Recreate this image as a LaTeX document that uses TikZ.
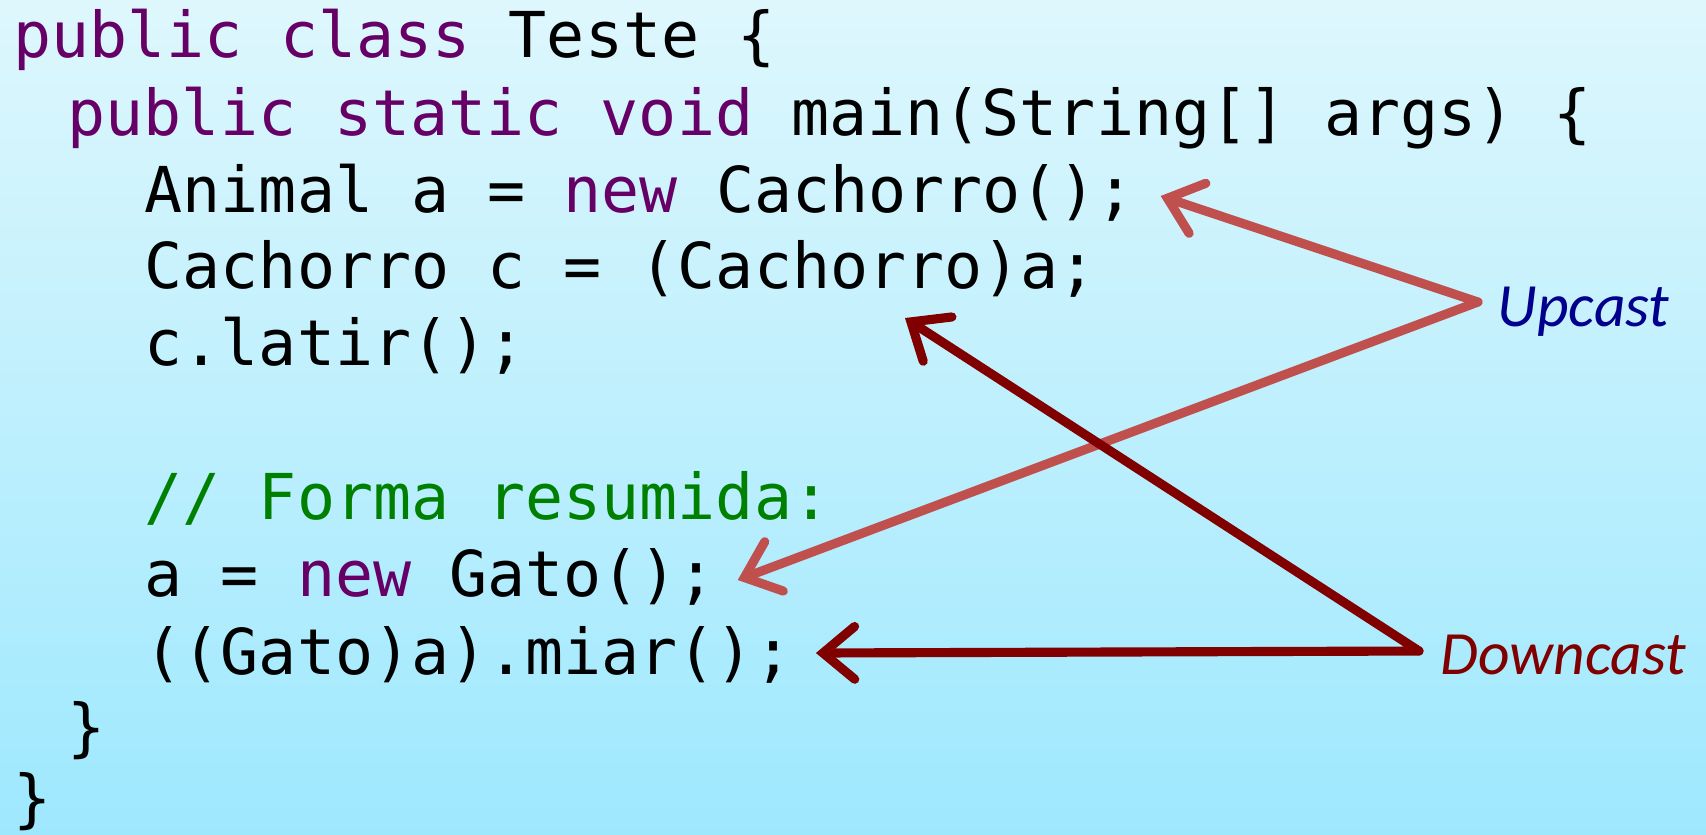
\documentclass[tikz,border=0pt]{standalone}
\usepackage{fontspec}
\setmonofont{DejaVu Sans Mono}
\newfontfamily\castfont{Carlito}
\usetikzlibrary{arrows.meta}
\definecolor{BgTop}{RGB}{222,247,253}
\definecolor{BgBottom}{RGB}{158,232,254}
\definecolor{KwPurple}{RGB}{102,0,102}
\definecolor{CmGreen}{RGB}{0,128,0}
\definecolor{UpRed}{RGB}{192,80,77}
\definecolor{UpNavy}{RGB}{0,0,140}
\definecolor{DownRed}{RGB}{128,0,0}
\newcommand{\kw}[1]{\textcolor{KwPurple}{#1}}

\begin{document}
\begin{tikzpicture}[
    code/.style={anchor=base west, inner sep=0pt,
                 font=\ttfamily\fontsize{18}{22}\selectfont},
    cast/.style={anchor=base west, inner sep=0pt,
                 font=\castfont\itshape\fontsize{17.5}{21}\selectfont},
    uparr/.style={-{Straight Barb[length=9pt, width=15pt, line cap=round]},
                  draw=UpRed, line width=2.6pt, line cap=round},
    downarr/.style={-{Straight Barb[length=9pt, width=15pt, line cap=round]},
                    draw=DownRed, line width=2.6pt, line cap=round}
  ]
  \shade[top color=BgTop, bottom color=BgBottom] (0,0) rectangle (17.06,-8.34);
  \useasboundingbox (0,0) rectangle (17.06,-8.34);

  % code lines
  \node[code] (l1)  at (0.13,-0.57) {\kw{public class} Teste \{};
  \node[code] (l2)  at (0.67,-1.35) {\kw{public static void} main(String[] args) \{};
  \node[code] (l3)  at (1.44,-2.12) {Animal a = \kw{new} Cachorro();};
  \node[code] (l4)  at (1.44,-2.88) {Cachorro c = (Cachorro)a;};
  \node[code] (l5)  at (1.44,-3.65) {c.latir();};
  \node[code, text=CmGreen] (l7) at (1.44,-5.19) {// Forma resumida:};
  \node[code] (l8)  at (1.44,-5.96) {a = \kw{new} Gato();};
  \node[code] (l9)  at (1.44,-6.74) {((Gato)a).miar();};
  \node[code] (l10) at (0.67,-7.49) {\}};
  \node[code] (l11) at (0.13,-8.20) {\}};

  % labels
  \node[cast, text=UpNavy]  (up)   at (14.97,-3.26) {Upcast};
  \node[cast, text=DownRed] (down) at (14.40,-6.74) {Downcast};

  \coordinate (upv)   at ([shift={(-0.19,0.24)}]up.base west);
  \coordinate (downv) at ([shift={(-0.21,0.23)}]down.base west);

  \draw[uparr] (upv) -- ([shift={(0.25,0.16)}]l3.base east);
  \draw[uparr] (upv) -- ([shift={(0.21,0.16)}]l8.base east);
  \draw[downarr] (downv) -- ([shift={(0.23,0.21)}]l9.base east);
  \draw[downarr] (downv) -- ([shift={(7.61,-0.30)}]l4.base west);
\end{tikzpicture}
\end{document}
